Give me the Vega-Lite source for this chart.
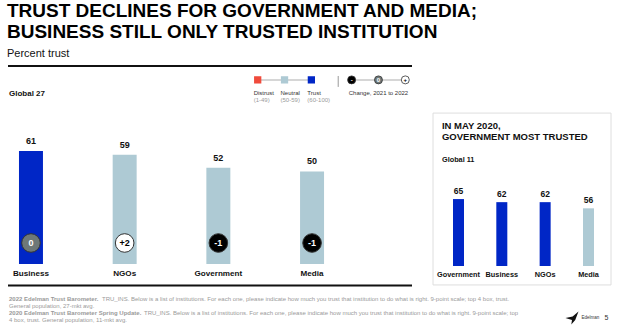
{
  "$schema": "https://vega.github.io/schema/vega-lite/v6.json",
  "background": "white",
  "padding": {"left": 7, "top": 2, "right": 0, "bottom": 0},
  "bounds": "flush",
  "title": {
    "text": ["TRUST DECLINES FOR GOVERNMENT AND MEDIA;", "BUSINESS STILL ONLY TRUSTED INSTITUTION"],
    "subtitle": "Percent trust",
    "anchor": "start",
    "font": "Liberation Sans",
    "fontSize": 19,
    "fontWeight": "bold",
    "lineHeight": 21,
    "color": "#000000",
    "subtitleFont": "Liberation Sans",
    "subtitleFontSize": 11,
    "subtitleColor": "#111111",
    "subtitlePadding": 6,
    "offset": 6
  },
  "datasets": {
    "main2022": [
      {"institution": "Business", "trust": 61, "level": "Trust", "change": "0", "direction": "none"},
      {"institution": "NGOs", "trust": 59, "level": "Neutral", "change": "+2", "direction": "up"},
      {"institution": "Government", "trust": 52, "level": "Neutral", "change": "-1", "direction": "down"},
      {"institution": "Media", "trust": 50, "level": "Neutral", "change": "-1", "direction": "down"}
    ],
    "may2020": [
      {"institution": "Government", "trust": 65, "level": "Trust"},
      {"institution": "Business", "trust": 62, "level": "Trust"},
      {"institution": "NGOs", "trust": 62, "level": "Trust"},
      {"institution": "Media", "trust": 56, "level": "Neutral"}
    ],
    "levels": [
      {"level": "Distrust", "range": "(1-49)"},
      {"level": "Neutral", "range": "(50-59)"},
      {"level": "Trust", "range": "(60-100)"}
    ],
    "changes": [
      {"direction": "down", "symbol": "-"},
      {"direction": "none", "symbol": "0"},
      {"direction": "up", "symbol": "+"}
    ],
    "footer": [
      {"part": "lead1", "text": "2022 Edelman Trust Barometer."},
      {"part": "rest1", "text": "TRU_INS. Below is a list of institutions. For each one, please indicate how much you trust that institution to do what is right. 9-point scale; top 4 box, trust."},
      {"part": "line2", "text": "General population, 27-mkt avg."},
      {"part": "lead3", "text": "2020 Edelman Trust Barometer Spring Update."},
      {"part": "rest3", "text": "TRU_INS. Below is a list of institutions. For each one, please indicate how much you trust that institution to do what is right. 9-point scale; top"},
      {"part": "line4", "text": "4 box, trust. General population, 11-mkt avg."}
    ]
  },
  "spacing": 21,
  "hconcat": [
    {
      "width": 404,
      "height": 262,
      "resolve": {"scale": {"x": "independent"}},
      "layer": [
        {
          "data": {"values": [{}]},
          "mark": {"type": "rule", "color": "#111111", "strokeWidth": 2},
          "encoding": {"y": {"datum": 107, "scale": {"domain": [-34.6, 107], "nice": false, "zero": false}, "axis": null}}
        },
        {
          "data": {"values": [{}]},
          "mark": {"type": "rule", "color": "#111111", "strokeWidth": 2},
          "encoding": {"y": {"datum": -11.6}}
        },
        {
          "data": {"name": "main2022"},
          "encoding": {
            "x": {"field": "institution", "type": "nominal", "axis": null,
                  "scale": {"domain": ["Business", "NGOs", "Government", "Media"], "paddingInner": 0.744, "paddingOuter": 0.528, "align": 0.111}}
          },
          "layer": [
            {
              "mark": {"type": "bar"},
              "encoding": {
                "y": {"field": "trust", "type": "quantitative"},
                "color": {"field": "level", "type": "nominal", "legend": null,
                          "scale": {"domain": ["Distrust", "Neutral", "Trust"], "range": ["#f04b3c", "#aecad4", "#0026c6"]}}
              }
            },
            {
              "mark": {"type": "text", "fontWeight": "bold", "fontSize": 9, "dy": -10, "color": "#111111"},
              "encoding": {"y": {"field": "trust", "type": "quantitative"}, "text": {"field": "trust"}}
            },
            {
              "mark": {"type": "point", "filled": true, "size": 346, "opacity": 1, "stroke": "#333333", "strokeWidth": 1},
              "encoding": {
                "y": {"datum": 11.35},
                "fill": {"field": "direction", "type": "nominal", "legend": null,
                         "scale": {"domain": ["down", "none", "up"], "range": ["#000000", "#6e7878", "#ffffff"]}}
              }
            },
            {
              "mark": {"type": "text", "fontWeight": "bold", "fontSize": 9},
              "encoding": {
                "y": {"datum": 11.35},
                "text": {"field": "change"},
                "color": {"condition": {"test": "datum.direction === 'up'", "value": "#000000"}, "value": "#ffffff"}
              }
            },
            {
              "mark": {"type": "text", "fontWeight": "bold", "fontSize": 8.1, "color": "#111111"},
              "encoding": {"y": {"datum": -5.4}, "text": {"field": "institution"}}
            },
            {
              "data": {"values": [{"label": "Global 27"}]},
              "mark": {"type": "text", "align": "left", "dx": -22, "fontWeight": "bold", "fontSize": 8, "color": "#111111"},
              "encoding": {"x": {"datum": "Business"}, "y": {"datum": 91.9}, "text": {"field": "label"}}
            },
            {
              "data": {"name": "footer"},
              "transform": [{"filter": "datum.part === 'lead1'"}],
              "mark": {"type": "text", "align": "left", "dx": -22, "fontSize": 6, "fontWeight": "bold", "color": "#9a9a9a"},
              "encoding": {"x": {"datum": "Business"}, "y": {"datum": -18.9}, "text": {"field": "text"}}
            },
            {
              "data": {"name": "footer"},
              "transform": [{"filter": "datum.part === 'rest1'"}],
              "mark": {"type": "text", "align": "left", "dx": 71, "fontSize": 6, "color": "#9a9a9a"},
              "encoding": {"x": {"datum": "Business"}, "y": {"datum": -18.9}, "text": {"field": "text"}}
            },
            {
              "data": {"name": "footer"},
              "transform": [{"filter": "datum.part === 'line2'"}],
              "mark": {"type": "text", "align": "left", "dx": -22, "fontSize": 6, "color": "#9a9a9a"},
              "encoding": {"x": {"datum": "Business"}, "y": {"datum": -22.7}, "text": {"field": "text"}}
            },
            {
              "data": {"name": "footer"},
              "transform": [{"filter": "datum.part === 'lead3'"}],
              "mark": {"type": "text", "align": "left", "dx": -22, "fontSize": 6, "fontWeight": "bold", "color": "#9a9a9a"},
              "encoding": {"x": {"datum": "Business"}, "y": {"datum": -26.5}, "text": {"field": "text"}}
            },
            {
              "data": {"name": "footer"},
              "transform": [{"filter": "datum.part === 'rest3'"}],
              "mark": {"type": "text", "align": "left", "dx": 113, "fontSize": 6, "color": "#9a9a9a"},
              "encoding": {"x": {"datum": "Business"}, "y": {"datum": -26.5}, "text": {"field": "text"}}
            },
            {
              "data": {"name": "footer"},
              "transform": [{"filter": "datum.part === 'line4'"}],
              "mark": {"type": "text", "align": "left", "dx": -22, "fontSize": 6, "color": "#9a9a9a"},
              "encoding": {"x": {"datum": "Business"}, "y": {"datum": -30.3}, "text": {"field": "text"}}
            }
          ]
        },
        {
          "layer": [
            {
              "data": {"values": [{}]},
              "mark": {"type": "rule", "color": "#c8c8c8", "strokeWidth": 1.5},
              "encoding": {
                "x": {"datum": "Distrust", "type": "nominal", "axis": null,
                      "scale": {"type": "point", "domain": ["Distrust", "g1", "Neutral", "g2", "Trust", "g3", "sep", "down", "g4", "none", "g5", "up"], "range": [249.7, 397.3], "padding": 0}},
                "x2": {"datum": "Trust"},
                "y": {"datum": 99.5}
              }
            },
            {
              "data": {"values": [{}]},
              "mark": {"type": "rule", "color": "#c8c8c8", "strokeWidth": 1.5},
              "encoding": {"x": {"datum": "down"}, "x2": {"datum": "up"}, "y": {"datum": 99.5}}
            },
            {
              "data": {"values": [{}]},
              "mark": {"type": "rule", "color": "#9a9a9a", "strokeWidth": 1},
              "encoding": {"x": {"datum": "sep"}, "y": {"datum": 101.6}, "y2": {"datum": 95.7}}
            },
            {
              "data": {"name": "levels"},
              "mark": {"type": "point", "shape": "square", "filled": true, "size": 53, "opacity": 1},
              "encoding": {"x": {"field": "level", "type": "nominal"}, "y": {"datum": 99.5}, "color": {"field": "level", "type": "nominal", "legend": null}}
            },
            {
              "data": {"name": "levels"},
              "mark": {"type": "text", "align": "left", "dx": -4, "fontSize": 6, "color": "#333333"},
              "encoding": {"x": {"field": "level", "type": "nominal"}, "y": {"datum": 92.4}, "text": {"field": "level"}}
            },
            {
              "data": {"name": "levels"},
              "mark": {"type": "text", "align": "left", "dx": -4, "fontSize": 6, "color": "#9a9a9a"},
              "encoding": {"x": {"field": "level", "type": "nominal"}, "y": {"datum": 88.6}, "text": {"field": "range"}}
            },
            {
              "data": {"name": "changes"},
              "mark": {"type": "point", "filled": true, "size": 64, "opacity": 1, "stroke": "#333333", "strokeWidth": 0.8},
              "encoding": {"x": {"field": "direction", "type": "nominal"}, "y": {"datum": 99.5}, "fill": {"field": "direction", "type": "nominal", "legend": null}}
            },
            {
              "data": {"name": "changes"},
              "mark": {"type": "text", "fontSize": 6, "fontWeight": "bold"},
              "encoding": {
                "x": {"field": "direction", "type": "nominal"},
                "y": {"datum": 99.5},
                "text": {"field": "symbol"},
                "color": {"condition": {"test": "datum.direction === 'up'", "value": "#000000"}, "value": "#ffffff"}
              }
            },
            {
              "data": {"values": [{"label": "Change, 2021 to 2022"}]},
              "mark": {"type": "text", "fontSize": 6, "color": "#333333"},
              "encoding": {"x": {"datum": "none"}, "y": {"datum": 92.4}, "text": {"field": "label"}}
            }
          ]
        }
      ]
    },
    {
      "width": 178,
      "height": 262,
      "layer": [
        {
          "data": {"values": [{}]},
          "mark": {"type": "rect", "fill": "#ffffff", "fillOpacity": 0, "stroke": "#dedede", "strokeWidth": 1},
          "encoding": {
            "y": {"datum": 148.5, "scale": {"domain": [-60.2, 194.2], "nice": false, "zero": false}, "axis": null},
            "y2": {"datum": -18.4}
          }
        },
        {
          "data": {"name": "may2020"},
          "encoding": {
            "x": {"field": "institution", "type": "nominal", "axis": null,
                  "scale": {"domain": ["Government", "Business", "NGOs", "Media"], "paddingInner": 0.746, "paddingOuter": 0.427, "align": 0.54}}
          },
          "layer": [
            {
              "mark": {"type": "bar"},
              "encoding": {
                "y": {"field": "trust", "type": "quantitative"},
                "color": {"field": "level", "type": "nominal", "legend": null,
                          "scale": {"domain": ["Distrust", "Neutral", "Trust"], "range": ["#f04b3c", "#aecad4", "#0026c6"]}}
              }
            },
            {
              "mark": {"type": "text", "fontWeight": "bold", "fontSize": 8.5, "dy": -8, "color": "#111111"},
              "encoding": {"y": {"field": "trust", "type": "quantitative"}, "text": {"field": "trust"}}
            },
            {
              "mark": {"type": "text", "fontWeight": "bold", "fontSize": 7.3, "color": "#111111"},
              "encoding": {"y": {"datum": -8.7}, "text": {"field": "institution"}}
            }
          ]
        },
        {
          "data": {"values": [{"label": "IN MAY 2020,"}]},
          "mark": {"type": "text", "align": "left", "baseline": "alphabetic", "dx": -16.5, "fontWeight": "bold", "fontSize": 9.5, "color": "#111111"},
          "encoding": {"x": {"datum": "Government"}, "y": {"datum": 133}, "text": {"field": "label"}}
        },
        {
          "data": {"values": [{"label": "GOVERNMENT MOST TRUSTED"}]},
          "mark": {"type": "text", "align": "left", "baseline": "alphabetic", "dx": -16.5, "fontWeight": "bold", "fontSize": 9.5, "color": "#111111"},
          "encoding": {"x": {"datum": "Government"}, "y": {"datum": 122.8}, "text": {"field": "label"}}
        },
        {
          "data": {"values": [{"label": "Global 11"}]},
          "mark": {"type": "text", "align": "left", "baseline": "middle", "dx": -16.5, "fontWeight": "bold", "fontSize": 7.3, "color": "#111111"},
          "encoding": {"x": {"datum": "Government"}, "y": {"datum": 102.9}, "text": {"field": "label"}}
        },
        {
          "data": {"values": [{}]},
          "mark": {"type": "point", "filled": true, "opacity": 1, "color": "#111111", "size": 170, "xOffset": -16.5,
                   "shape": "M 1 -1 L 0.1 -0.25 L -1 0 L 0 0.3 L -0.1 1 L 0.5 0.3 Z"},
          "encoding": {"x": {"datum": "Media"}, "y": {"datum": -50.5}}
        },
        {
          "data": {"values": [{"label": "Edelman"}]},
          "mark": {"type": "text", "dx": 2, "fontSize": 4.5, "color": "#333333"},
          "encoding": {"x": {"datum": "Media"}, "y": {"datum": -50.5}, "text": {"field": "label"}}
        },
        {
          "data": {"values": [{"label": "5"}]},
          "mark": {"type": "text", "dx": 18, "fontSize": 7, "color": "#333333"},
          "encoding": {"x": {"datum": "Media"}, "y": {"datum": -50.5}, "text": {"field": "label"}}
        }
      ]
    }
  ],
  "config": {
    "font": "Liberation Sans",
    "view": {"stroke": null},
    "axis": {"disable": true},
    "text": {"baseline": "middle"}
  }
}
